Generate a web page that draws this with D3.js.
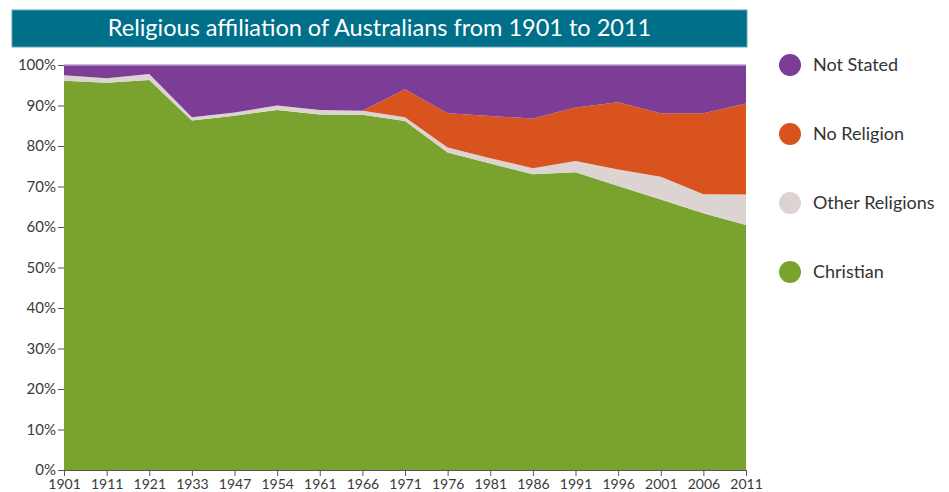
<!DOCTYPE html>
<html>
<head>
<meta charset="utf-8">
<script src="https://cdn.jsdelivr.net/npm/d3@7"></script>
<style>
  body { margin: 0; background: #fff; font-family: Lato, "Open Sans", sans-serif; }
  .axis text { font-family: Lato, sans-serif; font-size: 14px; fill: #3a3a3a; }
  .axis.y text { font-size: 15px; }
  .axis path, .axis line { stroke: #555; }
</style>
</head>
<body>
<svg id="chart" width="949" height="492"></svg>
<script>
  // census years and share of population (%) for each group
  var years = ['1901', '1911', '1921', '1933', '1947', '1954', '1961', '1966', '1971',
               '1976', '1981', '1986', '1991', '1996', '2001', '2006', '2011'];
  var christian = [96.1, 95.6, 96.3, 86.3, 87.5, 88.9, 87.8, 87.7, 86.2, 78.4, 75.7, 73.0, 73.5, 70.1, 66.8, 63.4, 60.5];
  var otherReligions = [1.4, 1.1, 1.5, 0.8, 0.8, 1.1, 1.1, 1.0, 0.9, 1.2, 1.3, 1.5, 2.8, 4.1, 5.6, 4.7, 7.5];
  var noReligion = [0, 0, 0, 0, 0, 0, 0, 0, 6.9, 8.5, 10.4, 12.3, 13.2, 16.6, 15.7, 20.0, 22.5];
  var notStated = [2.5, 3.3, 2.2, 12.9, 11.7, 10.0, 11.1, 11.3, 6.0, 11.9, 12.6, 13.2, 10.5, 9.2, 11.9, 11.9, 9.5];

  var seriesNames = ['Christian', 'Other Religions', 'No Religion', 'Not Stated'];
  var colors = {
    'Christian': '#79a22f',
    'Other Religions': '#dcd4d1',
    'No Religion': '#d9531e',
    'Not Stated': '#7d3c96'
  };
  var yTicks = [0, 10, 20, 30, 40, 50, 60, 70, 80, 90, 100];

  var rows = years.map(function (y, i) {
    return {
      year: y,
      'Christian': christian[i],
      'Other Religions': otherReligions[i],
      'No Religion': noReligion[i],
      'Not Stated': notStated[i]
    };
  });

  var svg = d3.select('#chart');
  var margin = {top: 65, right: 203, bottom: 22, left: 64};
  var width = 949 - margin.left - margin.right,
      height = 492 - margin.top - margin.bottom;

  // title banner
  svg.append('rect')
    .attr('x', 12).attr('y', 10).attr('width', 735).attr('height', 37)
    .attr('fill', '#006f8a').attr('stroke', '#5fa3b5').attr('stroke-width', 1);
  svg.append('text')
    .attr('x', 12 + 735 / 2).attr('y', 36)
    .attr('text-anchor', 'middle')
    .attr('fill', '#fff')
    .style('font-family', 'Lato, sans-serif')
    .style('font-size', '23.5px')
    .text('Religious affiliation of Australians from 1901 to 2011');

  var g = svg.append('g').attr('transform', 'translate(' + margin.left + ',' + margin.top + ')');

  var x = d3.scalePoint().domain(years).range([0, width]);
  var y = d3.scaleLinear().domain([0, 100]).range([height, 0]);

  var stack = d3.stack().keys(seriesNames);
  var layers = stack(rows);

  var area = d3.area()
    .x(function (d) { return x(d.data.year); })
    .y0(function (d) { return y(d[0]); })
    .y1(function (d) { return y(d[1]); });

  g.selectAll('.layer')
    .data(layers)
    .enter().append('path')
    .attr('class', 'layer')
    .attr('fill', function (d) { return colors[d.key]; })
    .attr('d', area);

  // thin top edge
  g.append('line')
    .attr('x1', 0).attr('x2', width).attr('y1', y(100)).attr('y2', y(100))
    .attr('stroke', '#b79ccc').attr('stroke-width', 1.5);

  g.append('g')
    .attr('class', 'axis y')
    .call(d3.axisLeft(y).tickValues(yTicks).tickFormat(function (d) { return d + '%'; })
      .tickSizeOuter(0).tickPadding(2))
    .call(function (a) { a.select('.domain').remove(); });

  g.append('g')
    .attr('class', 'axis x')
    .attr('transform', 'translate(0,' + height + ')')
    .call(d3.axisBottom(x).tickSizeOuter(0).tickPadding(3));

  // legend
  var legend = svg.append('g').attr('transform', 'translate(790,65)');
  var legendOrder = ['Not Stated', 'No Religion', 'Other Religions', 'Christian'];
  var items = legend.selectAll('.item')
    .data(legendOrder)
    .enter().append('g')
    .attr('transform', function (d, i) { return 'translate(0,' + (i * 69) + ')'; });
  items.append('circle').attr('r', 11).attr('fill', function (d) { return colors[d]; });
  items.append('text')
    .attr('x', 23).attr('y', 6)
    .attr('fill', '#333')
    .style('font-family', 'Lato, sans-serif')
    .style('font-size', '18px')
    .text(function (d) { return d; });
</script>
</body>
</html>
